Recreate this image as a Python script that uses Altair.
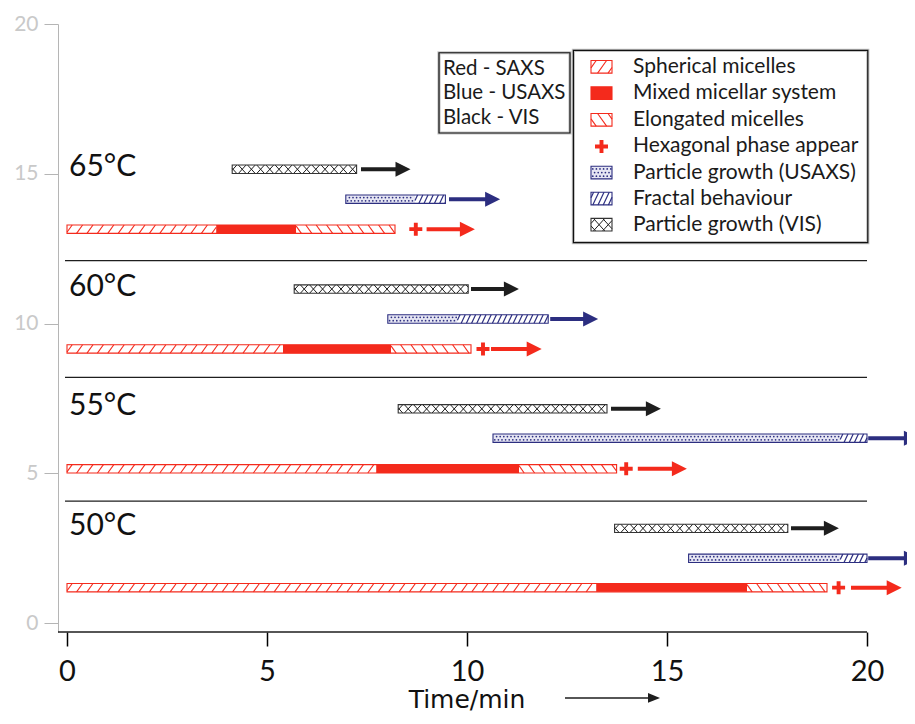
import altair as alt
import pandas as pd

# ---------------- data ----------------
temps = ["65°C", "60°C", "55°C", "50°C"]
row_red = [13.15, 9.15, 5.15, 1.18]
row_blue = [14.15, 10.15, 6.17, 2.16]
row_black = [15.15, 11.15, 7.15, 3.16]

sph_start = [0.0, 0.0, 0.0, 0.0]
mixed_start = [3.73, 5.40, 7.73, 13.23]
mixed_end = [5.73, 8.10, 11.30, 17.00]
elong_end = [8.20, 10.10, 13.74, 19.00]
hex_time = [8.72, 10.40, 13.98, 19.29]
red_arrow_start = [8.99, 10.60, 14.27, 19.60]
red_arrow_end = [10.20, 11.87, 15.50, 20.87]

usaxs_start = [6.97, 8.02, 10.65, 15.54]
fractal_start = [8.70, 9.76, 19.33, 19.33]
fractal_end = [9.46, 12.03, 20.00, 20.00]
blue_arrow_start = [9.55, 12.08, 20.03, 20.03]
blue_arrow_end = [10.83, 13.28, 21.30, 21.30]

vis_start = [4.13, 5.68, 8.28, 13.69]
vis_end = [7.24, 10.03, 13.50, 18.02]
black_arrow_start = [7.35, 10.10, 13.60, 18.10]
black_arrow_end = [8.59, 11.30, 14.85, 19.30]

separators = [12.10, 8.20, 4.07]
x_ticks = [0, 5, 10, 15, 20]
y_ticks = [0, 5, 10, 15, 20]

method_lines = ["Red - SAXS", "Blue - USAXS", "Black - VIS"]
legend_labels = ["Spherical micelles", "Mixed micellar system", "Elongated micelles",
                 "Hexagonal phase appear", "Particle growth (USAXS)",
                 "Fractal behaviour", "Particle growth (VIS)"]

# ---------------- layout / style ----------------
X_DOM = [-0.225, 21.0]
Y_DOM = [-0.3, 20.0]
PLOT_W, PLOT_H = 849, 608
BAR_HALF = 0.14
SW_HALF = 0.21
RED = "#f42a1c"
NAVY = "#2c2e80"
BLACK = "#1e1e1e"
VISB = "#333333"
FONT = "Lato"

box1 = (9.30, 12.575, 16.36, 19.04)
box2 = (12.66, 20.02, 12.70, 19.12)
method_x, method_y = 9.40, [18.51, 17.69, 16.86]
sw_x0, sw_x1 = 13.10, 13.625
legend_x = 14.15
legend_y = [18.57, 17.69, 16.80, 15.91, 15.04, 14.17, 13.30]
title_arrow = (12.45, 14.825, -2.5)
HEAD = 0.19  # half arrow-head length in minutes


def clip_seg(xa, ya, xb, yb, lo, hi):
    t0 = max(0.0, (lo - xa) / (xb - xa))
    t1 = min(1.0, (hi - xa) / (xb - xa))
    if t1 <= t0 + 0.05:
        return None
    return (xa + t0 * (xb - xa), ya + t0 * (yb - ya),
            xa + t1 * (xb - xa), ya + t1 * (yb - ya))


def hatch(x0, x1, yc, half, spacing, slant, kinds, color, sw):
    out = []
    s = slant * half / BAR_HALF
    x = x0 - s + spacing * 0.5
    while x < x1:
        for k in kinds:
            if k == "/":
                seg = (x, yc - half, x + s, yc + half)
            else:
                seg = (x, yc + half, x + s, yc - half)
            c = clip_seg(*seg, x0, x1)
            if c:
                out.append(dict(x=c[0], y=c[1], x2=c[2], y2=c[3], c=color, w=sw))
        x += spacing
    return out


def dots(x0, x1, yc, offsets, spacing):
    out = []
    for i, off in enumerate(offsets):
        x = x0 + spacing * (0.5 + 0.5 * (i % 2))
        while x < x1 - spacing * 0.3:
            out.append(dict(x=x, y=yc + off))
            x += spacing
    return out


def pat_sph(x0, x1, yc, half):
    return hatch(x0, x1, yc, half, 0.26, 0.15, "/", RED, 1.1)


def pat_elong(x0, x1, yc, half):
    return hatch(x0, x1, yc, half, 0.26, 0.15, "\\", RED, 1.1)


def pat_fractal(x0, x1, yc, half):
    return hatch(x0, x1, yc, half, 0.13, 0.10, "/", NAVY, 1.2)


def pat_vis(x0, x1, yc, half):
    return hatch(x0, x1, yc, half, 0.23, 0.19, "/\\", BLACK, 1.0)


fills, lines, dotp, outlines = [], [], [], []
for i in range(4):
    yr, yb, yk = row_red[i], row_blue[i], row_black[i]
    h = BAR_HALF
    fills += [dict(x=sph_start[i], x2=mixed_start[i], y=yr - h, y2=yr + h, f="white"),
              dict(x=mixed_start[i], x2=mixed_end[i], y=yr - h, y2=yr + h, f=RED),
              dict(x=mixed_end[i], x2=elong_end[i], y=yr - h, y2=yr + h, f="white"),
              dict(x=usaxs_start[i], x2=fractal_start[i], y=yb - h, y2=yb + h, f="#e6e6f3"),
              dict(x=fractal_start[i], x2=fractal_end[i], y=yb - h, y2=yb + h, f="white"),
              dict(x=vis_start[i], x2=vis_end[i], y=yk - h, y2=yk + h, f="white")]
    lines += pat_sph(sph_start[i], mixed_start[i], yr, h)
    lines += pat_elong(mixed_end[i], elong_end[i], yr, h)
    lines += pat_fractal(fractal_start[i], fractal_end[i], yb, h)
    lines += pat_vis(vis_start[i], vis_end[i], yk, h)
    dotp += dots(usaxs_start[i], fractal_start[i], yb, [-0.055, 0.055], 0.09)
    outlines += [dict(x=sph_start[i], x2=elong_end[i], y=yr - h, y2=yr + h, c=RED),
                 dict(x=usaxs_start[i], x2=fractal_end[i], y=yb - h, y2=yb + h, c=NAVY),
                 dict(x=vis_start[i], x2=vis_end[i], y=yk - h, y2=yk + h, c=VISB)]

# legend swatches
sh = SW_HALF
ly = legend_y
fills += [dict(x=sw_x0, x2=sw_x1, y=ly[0] - sh, y2=ly[0] + sh, f="white"),
          dict(x=sw_x0, x2=sw_x1, y=ly[1] - sh, y2=ly[1] + sh, f=RED),
          dict(x=sw_x0, x2=sw_x1, y=ly[2] - sh, y2=ly[2] + sh, f="white"),
          dict(x=sw_x0, x2=sw_x1, y=ly[4] - sh, y2=ly[4] + sh, f="#e6e6f3"),
          dict(x=sw_x0, x2=sw_x1, y=ly[5] - sh, y2=ly[5] + sh, f="white"),
          dict(x=sw_x0, x2=sw_x1, y=ly[6] - sh, y2=ly[6] + sh, f="white")]
lines += pat_sph(sw_x0, sw_x1, ly[0], sh)
lines += pat_elong(sw_x0, sw_x1, ly[2], sh)
lines += pat_fractal(sw_x0, sw_x1, ly[5], sh)
lines += pat_vis(sw_x0, sw_x1, ly[6], sh)
dotp += dots(sw_x0, sw_x1, ly[4], [-0.12, 0.0, 0.12], 0.09)
outlines += [dict(x=sw_x0, x2=sw_x1, y=ly[0] - sh, y2=ly[0] + sh, c=RED),
             dict(x=sw_x0, x2=sw_x1, y=ly[1] - sh, y2=ly[1] + sh, c=RED),
             dict(x=sw_x0, x2=sw_x1, y=ly[2] - sh, y2=ly[2] + sh, c=RED),
             dict(x=sw_x0, x2=sw_x1, y=ly[4] - sh, y2=ly[4] + sh, c=NAVY),
             dict(x=sw_x0, x2=sw_x1, y=ly[5] - sh, y2=ly[5] + sh, c=NAVY),
             dict(x=sw_x0, x2=sw_x1, y=ly[6] - sh, y2=ly[6] + sh, c=VISB)]

crosses = [dict(x=hex_time[i], y=row_red[i]) for i in range(4)]
crosses.append(dict(x=(sw_x0 + sw_x1) / 2, y=ly[3]))

shafts, heads = [], []
for i in range(4):
    for st, en, yy, col in [(red_arrow_start[i], red_arrow_end[i], row_red[i], RED),
                            (blue_arrow_start[i], blue_arrow_end[i], row_blue[i], NAVY),
                            (black_arrow_start[i], black_arrow_end[i], row_black[i], BLACK)]:
        shafts.append(dict(x=st, x2=en - HEAD, y=yy, c=col))
        heads.append(dict(x=en - HEAD, y=yy, c=col))

# ---------------- scales / axes ----------------
xs = alt.Scale(domain=X_DOM, nice=False, zero=False)
ys = alt.Scale(domain=Y_DOM, nice=False, zero=False)
xaxis = alt.Axis(values=x_ticks, title="Time/min", grid=False, domain=False,
                 tickColor="black", tickSize=14, tickWidth=1.5,
                 labelFont=FONT, labelFontSize=29, labelColor="#111111",
                 labelPadding=11, labelFlush=False,
                 titleFont="DejaVu Sans", titleFontSize=25, titleFontWeight="normal",
                 titleColor="#111111", titleX=408.5, titleY=75, titleAlign="center",
                 titleBaseline="alphabetic")
yaxis = alt.Axis(values=y_ticks, title=None, grid=False, domainColor="#b5b5b5",
                 domainWidth=1, tickColor="#b5b5b5", tickSize=14, tickWidth=1,
                 labelFont=FONT, labelFontSize=21, labelColor="#c9c9c9",
                 labelPadding=6)


def X(f):
    return alt.X(f, type="quantitative", scale=xs, axis=xaxis)


def Y(f):
    return alt.Y(f, type="quantitative", scale=ys, axis=yaxis)


layers = []

layers.append(alt.Chart(pd.DataFrame(fills)).mark_rect(strokeWidth=0).encode(
    x=X("x"), x2="x2", y=Y("y"), y2="y2", fill=alt.Fill("f:N", scale=None)))

layers.append(alt.Chart(pd.DataFrame(lines)).mark_rule().encode(
    x=X("x"), x2="x2", y=Y("y"), y2="y2",
    stroke=alt.Stroke("c:N", scale=None),
    strokeWidth=alt.StrokeWidth("w:Q", scale=None)))

layers.append(alt.Chart(pd.DataFrame(dotp)).mark_circle(size=3, color=NAVY, opacity=1).encode(
    x=X("x"), y=Y("y")))

layers.append(alt.Chart(pd.DataFrame(outlines)).mark_rect(fillOpacity=0, strokeWidth=1.1).encode(
    x=X("x"), x2="x2", y=Y("y"), y2="y2", stroke=alt.Stroke("c:N", scale=None)))

plus_path = ("M-0.3,-1L0.3,-1L0.3,-0.3L1,-0.3L1,0.3L0.3,0.3L0.3,1L-0.3,1"
             "L-0.3,0.3L-1,0.3L-1,-0.3L-0.3,-0.3Z")
layers.append(alt.Chart(pd.DataFrame(crosses)).mark_point(
    shape=plus_path, filled=True, size=169, color=RED, opacity=1, strokeWidth=0).encode(
    x=X("x"), y=Y("y")))

layers.append(alt.Chart(pd.DataFrame(shafts)).mark_rule(strokeWidth=4, clip=True).encode(
    x=X("x"), x2="x2", y=Y("y"), stroke=alt.Stroke("c:N", scale=None)))

layers.append(alt.Chart(pd.DataFrame(heads)).mark_point(
    shape="M-1,-1L1,0L-1,1Z", filled=True, size=225, opacity=1, strokeWidth=0, clip=True).encode(
    x=X("x"), y=Y("y"), fill=alt.Fill("c:N", scale=None)))

sep_df = pd.DataFrame(dict(y=separators, x=[-0.05] * 3, x2=[20.0] * 3))
layers.append(alt.Chart(sep_df).mark_rule(color=BLACK, strokeWidth=1.3).encode(
    x=X("x"), x2="x2", y=Y("y")))

temp_df = pd.DataFrame(dict(t=temps, x=[0.05] * 4, y=[r + 0.08 for r in row_black]))
layers.append(alt.Chart(temp_df).mark_text(
    align="left", baseline="middle", font=FONT, fontSize=30, color="#111111").encode(
    x=X("x"), y=Y("y"), text="t:N"))

boxes = pd.DataFrame([dict(x=b[0], x2=b[1], y=b[2], y2=b[3]) for b in (box1, box2)])
layers.append(alt.Chart(boxes).mark_rect(fillOpacity=0, stroke="#c4c4c4", strokeWidth=3.2).encode(
    x=X("x"), x2="x2", y=Y("y"), y2="y2"))
layers.append(alt.Chart(boxes).mark_rect(fillOpacity=0, stroke="#111111", strokeWidth=1.2).encode(
    x=X("x"), x2="x2", y=Y("y"), y2="y2"))

meth_df = pd.DataFrame(dict(t=method_lines, x=[method_x] * 3, y=method_y))
layers.append(alt.Chart(meth_df).mark_text(
    align="left", baseline="middle", font=FONT, fontSize=20.5, color="#1a1a1a").encode(
    x=X("x"), y=Y("y"), text="t:N"))

leg_df = pd.DataFrame(dict(t=legend_labels, x=[legend_x] * 7, y=legend_y))
layers.append(alt.Chart(leg_df).mark_text(
    align="left", baseline="middle", font=FONT, fontSize=21, color="#1a1a1a").encode(
    x=X("x"), y=Y("y"), text="t:N"))

base_df = pd.DataFrame(dict(x=[X_DOM[0]], x2=[20.0], y=[Y_DOM[0]]))
layers.append(alt.Chart(base_df).mark_rule(color=BLACK, strokeWidth=1.5, clip=False).encode(
    x=X("x"), x2="x2", y=Y("y")))

ta = pd.DataFrame(dict(x=[title_arrow[0]], x2=[title_arrow[1] - 0.15], y=[title_arrow[2]]))
layers.append(alt.Chart(ta).mark_rule(color=BLACK, strokeWidth=1.5, clip=False).encode(
    x=X("x"), x2="x2", y=Y("y")))
tah = pd.DataFrame(dict(x=[title_arrow[1] - 0.15], y=[title_arrow[2]]))
layers.append(alt.Chart(tah).mark_point(
    shape="M-1,-0.8L1,0L-1,0.8Z", filled=True, size=144, color=BLACK, opacity=1,
    strokeWidth=0, clip=False).encode(x=X("x"), y=Y("y")))

chart = alt.layer(*layers).properties(
    width=PLOT_W, height=PLOT_H,
    autosize=alt.AutoSizeParams(type="none"),
    padding={"left": 50, "top": 16, "right": 0, "bottom": 84},
).configure_view(stroke=None)

chart.save("out.html", embed_options={"renderer": "svg", "actions": False})
